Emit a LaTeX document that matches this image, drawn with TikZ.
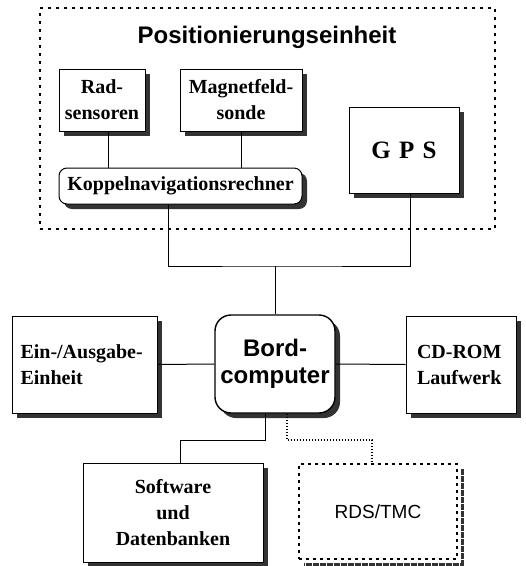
\documentclass[tikz,border=0pt]{standalone}
\usepackage{fontspec}
\setmainfont{Liberation Serif}
\setsansfont{Liberation Sans}
\usetikzlibrary{shadows}
\tikzset{
  sh/.style={drop shadow={shadow xshift=5pt, shadow yshift=-5pt, fill=black!80, opacity=1}},
  box/.style={draw, line width=1pt, fill=white, sh, align=center, inner sep=0pt,
    font=\bfseries\fontsize{20}{26}\selectfont},
  rbox/.style={box, rounded corners=8pt},
  bord/.style={box, line width=1.4pt, rounded corners=16pt,
    font=\sffamily\bfseries\fontsize{24}{27}\selectfont},
  rdsbox/.style={draw, line width=1.2pt, dash pattern=on 3pt off 4pt, fill=white,
    inner sep=0pt, font=\sffamily\fontsize{19}{24}\selectfont},
  frame/.style={draw, line width=1.5pt, dash pattern=on 3pt off 5pt},
  wire/.style={draw, line width=1pt},
  dotwire/.style={draw, line width=1.2pt, dash pattern=on 1.5pt off 1.5pt},
  title/.style={font=\sffamily\bfseries\fontsize{24}{26}\selectfont}
}
\begin{document}
\begin{tikzpicture}[x=1pt,y=-1pt]
\useasboundingbox (0,0) rectangle (526,566);
% outer dotted frame
\node[frame, minimum width=455pt, minimum height=221pt, inner sep=0pt] (pos) at (267.5,118.5) {};
\node[title] (ptitle) at (267,37) {Positionierungseinheit};
% top boxes
\node[box, minimum width=86pt, minimum height=62pt] (rad) at (102,100) {Rad-\\sensoren};
\node[box, minimum width=122pt, minimum height=62pt] (mag) at (241,100) {Magnetfeld-\\sonde};
\node[box, minimum width=110pt, minimum height=86pt, font=\bfseries\fontsize{25}{28}\selectfont] (gps) at (404,150) {G\,\,P\,\,S};
\node[rbox, minimum width=243pt, minimum height=36pt] (kop) at (180.5,186) {Koppelnavigationsrechner};
% middle row
\node[box, minimum width=145pt, minimum height=97pt, text width=128pt, align=left] (ein) at (84.5,364.5) {Ein-/Ausgabe-\\Einheit};
\node[bord, minimum width=120pt, minimum height=98pt] (bc) at (275,364) {Bord-\\computer};
\node[box, minimum width=110pt, minimum height=97pt, text width=88pt, align=left] (cd) at (461,364.5) {CD-ROM\\Laufwerk};
% bottom row
\node[box, minimum width=180pt, minimum height=99pt] (sw) at (173,512.5) {Software\\und\\Datenbanken};
\draw[line width=3pt, black!80, dash pattern=on 6pt off 1pt] (462,469) -- (462,564) -- (304,564);
\node[rdsbox, minimum width=158pt, minimum height=95pt] (rds) at (378,511.5) {RDS/TMC};
% connectors
\coordinate (bus) at (275,266);
\coordinate (swj) at (180,440);
\coordinate (rdj) at (372,440);
\draw[wire] ([xshift=6pt]rad.south) -- ([xshift=6pt]rad.south |- kop.north);
\draw[wire] (mag.south) -- (mag.south |- kop.north);
\draw[wire] ([xshift=-12.5pt]kop.south) |- (bus) -| ([xshift=6pt]gps.south);
\draw[wire] (bus) -- (bc.north);
\draw[wire] (ein.east) -- (bc.west);
\draw[wire] (bc.east) -- (cd.west);
\draw[wire] ([xshift=-10pt]bc.south) |- (swj) -- (swj |- sw.north);
\draw[dotwire] ([xshift=12pt]bc.south) |- (rdj) -- (rdj |- rds.north);
\end{tikzpicture}
\end{document}
